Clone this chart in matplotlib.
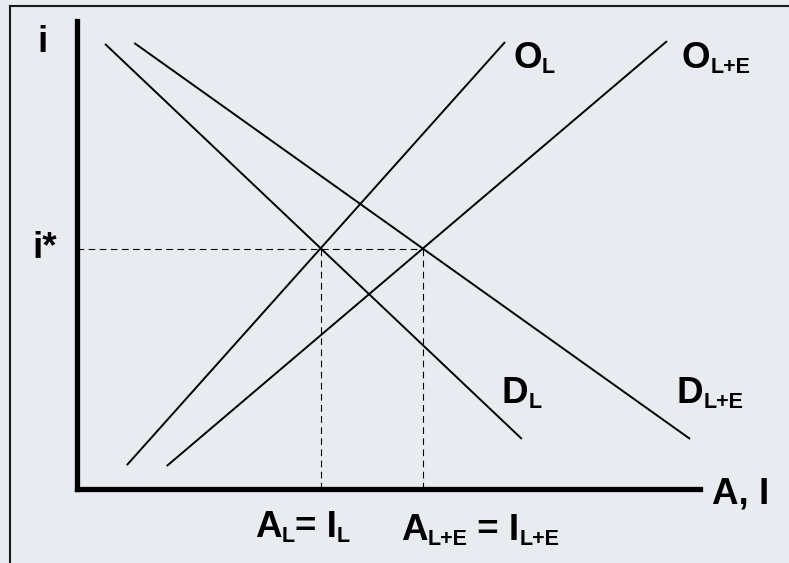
import matplotlib
matplotlib.use('Agg')
import matplotlib.pyplot as plt
from matplotlib.lines import Line2D

# line endpoints (axis units 0..100)
d_l_x = [4.5, 71.4]
d_l_y = [95.1, 10.7]
d_le_x = [9.2, 98.4]
d_le_y = [95.3, 10.7]
o_l_x = [8.0, 68.7]
o_l_y = [5.1, 95.5]
o_le_x = [14.4, 94.7]
o_le_y = [4.9, 95.7]

# equilibrium values
i_star = 51.3
a_l = 39.2
a_le = 55.5

bg = '#e8ebf0'
big = 26.5
small = 15.5
drop = 1.5  # subscript drop, points

plt.rcParams['font.family'] = ['Liberation Sans', 'DejaVu Sans']
plt.rcParams['font.weight'] = 'bold'

fig = plt.figure(figsize=(7.89, 5.63), dpi=100, facecolor=bg)
ax = fig.add_axes([77 / 789, 74 / 563, 623 / 789, 468 / 563])
ax.set_facecolor(bg)
ax.set_xlim(0, 100)
ax.set_ylim(0, 100)
ax.set_xticks([])
ax.set_yticks([])
for s in ['top', 'right']:
    ax.spines[s].set_visible(False)
for s in ['left', 'bottom']:
    ax.spines[s].set_linewidth(3.8)
    ax.spines[s].set_capstyle('projecting')

lw = 1.4
ax.plot(d_l_x, d_l_y, color='black', lw=lw, solid_capstyle='butt')
ax.plot(d_le_x, d_le_y, color='black', lw=lw, solid_capstyle='butt')
ax.plot(o_l_x, o_l_y, color='black', lw=lw, solid_capstyle='butt')
ax.plot(o_le_x, o_le_y, color='black', lw=lw, solid_capstyle='butt')

dash = (0, (6, 4))
ax.plot([0, a_le], [i_star, i_star], color='black', lw=0.8, ls=dash)
ax.plot([a_l, a_l], [0, i_star], color='black', lw=0.8, ls=dash)
ax.plot([a_le, a_le], [0, i_star], color='black', lw=0.8, ls=dash)


def label(x, y, parts, ha='left'):
    # parts: list of (text, is_subscript)
    t = ax.text(x, y, parts[0][0], fontsize=big, fontweight='bold',
                ha=ha, va='baseline', clip_on=False)
    prev_sub = False
    for txt, sub in parts[1:]:
        if sub:
            off = -drop
        elif prev_sub:
            off = drop
        else:
            off = 0
        t = ax.annotate(txt, xy=(1, 0), xycoords=t, xytext=(0, off),
                        textcoords='offset points', va='bottom', ha='left',
                        fontsize=small if sub else big, fontweight='bold',
                        annotation_clip=False)
        prev_sub = sub
    return t


label(-5.6, 93.4, [('i', False)], ha='center')
label(-7.1, 49.4, [('i*', False)])
label(70.0, 90.0, [('O', False), ('L', True)])
label(97.1, 90.0, [('O', False), ('L+E', True)])
label(68.2, 18.4, [('D', False), ('L', True)])
label(96.3, 18.4, [('D', False), ('L+E', True)])
label(101.9, -3.0, [('A, I', False)])
label(28.6, -10.3, [('A', False), ('L', True), ('= I', False), ('L', True)])
label(52.0, -10.9, [('A', False), ('L+E', True), (' = I', False), ('L+E', True)])

# outer frame (top and left edges visible)
fig.add_artist(Line2D([9.5 / 789, 1], [1 - 5.5 / 563, 1 - 5.5 / 563],
                      transform=fig.transFigure, color='#1a1a1a', lw=1.5))
fig.add_artist(Line2D([9.5 / 789, 9.5 / 789], [0, 1 - 5.5 / 563],
                      transform=fig.transFigure, color='#1a1a1a', lw=1.5))

fig.savefig('out.png', dpi=100, facecolor=bg)
